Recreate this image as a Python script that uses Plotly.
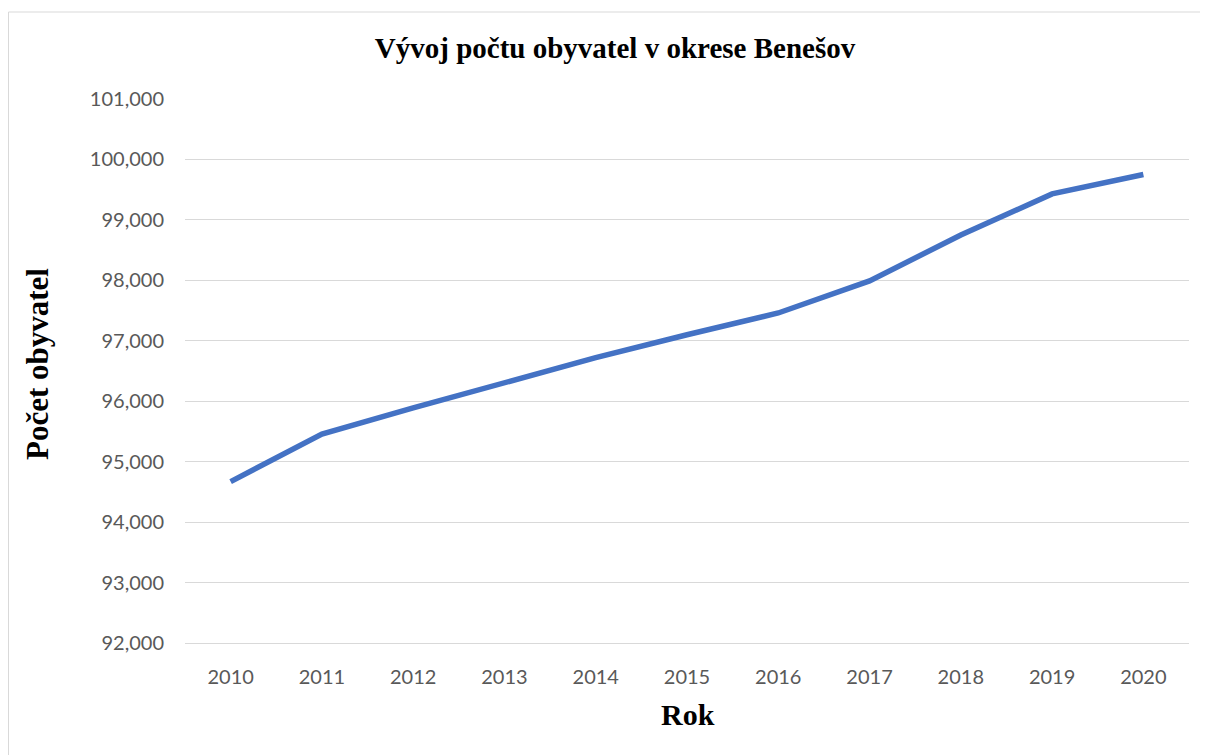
import plotly.graph_objects as go

years = ["2010", "2011", "2012", "2013", "2014", "2015", "2016", "2017", "2018", "2019", "2020"]
population = [94670, 95455, 95890, 96300, 96720, 97100, 97460, 97990, 98750, 99430, 99750]
y_ticks = [92000, 93000, 94000, 95000, 96000, 97000, 98000, 99000, 100000, 101000]
y_tick_labels = ["92,000", "93,000", "94,000", "95,000", "96,000", "97,000", "98,000", "99,000", "100,000", "101,000"]

title_text = "Vývoj počtu obyvatel v okrese Benešov"
y_title = "Počet obyvatel"
x_title = "Rok"

# page body has an 8px margin; figure coordinates are offset by it
OFF = 8
W, H = 1208 - OFF, 755 - OFF
L, R_ = 185 - OFF, 1189 - OFF
T, B = 99 - OFF, 643 - OFF
PW, PH = R_ - L, B - T

def px(x):
    return (x - OFF - L) / PW

def py(y):
    return (B - (y - OFF)) / PH

fig = go.Figure()
fig.add_trace(go.Scatter(
    x=years, y=population, mode="lines",
    line=dict(color="#4472C4", width=5.5),
    showlegend=False, hoverinfo="x+y",
))

tick_font = dict(family="Lato, 'Open Sans', sans-serif", size=20, color="#595959")
serif_bold = "Liberation Serif, 'Times New Roman', serif"

fig.update_layout(
    width=W, height=H,
    paper_bgcolor="white", plot_bgcolor="white",
    margin=dict(l=L, r=W - R_, t=T, b=H - B),
    title=dict(text="<b>" + title_text + "</b>", x=(615 - OFF) / W, xanchor="center",
               y=1 - (48 - OFF) / H, yanchor="middle", yref="container",
               font=dict(family=serif_bold, size=29, color="black")),
    xaxis=dict(type="category", range=[-0.5, 10.5], showgrid=False,
               showline=True, linecolor="#D9D9D9", linewidth=1,
               ticks="", tickfont=tick_font, ticklabelstandoff=16),
    yaxis=dict(range=[92000, 101000], tickvals=y_ticks, ticktext=y_tick_labels,
               showgrid=True, gridcolor="#D9D9D9", gridwidth=1,
               zeroline=False, showline=False, ticks="",
               tickfont=tick_font, ticklabelstandoff=20),
    annotations=[
        dict(text="<b>" + y_title + "</b>", xref="paper", yref="paper",
             x=px(37), y=py(364), textangle=-90,
             showarrow=False, xanchor="center", yanchor="middle",
             font=dict(family=serif_bold, size=31, color="black")),
        dict(text="<b>" + x_title + "</b>", xref="paper", yref="paper",
             x=px(688), y=py(714),
             showarrow=False, xanchor="center", yanchor="middle",
             font=dict(family=serif_bold, size=30, color="black")),
    ],
    shapes=[dict(type="rect", xref="paper", yref="paper",
                 x0=px(8.5), x1=px(1206.5),
                 y0=py(770), y1=py(12),
                 line=dict(color="#D9D9D9", width=1), layer="below")],
)

fig.write_html("out.html")
